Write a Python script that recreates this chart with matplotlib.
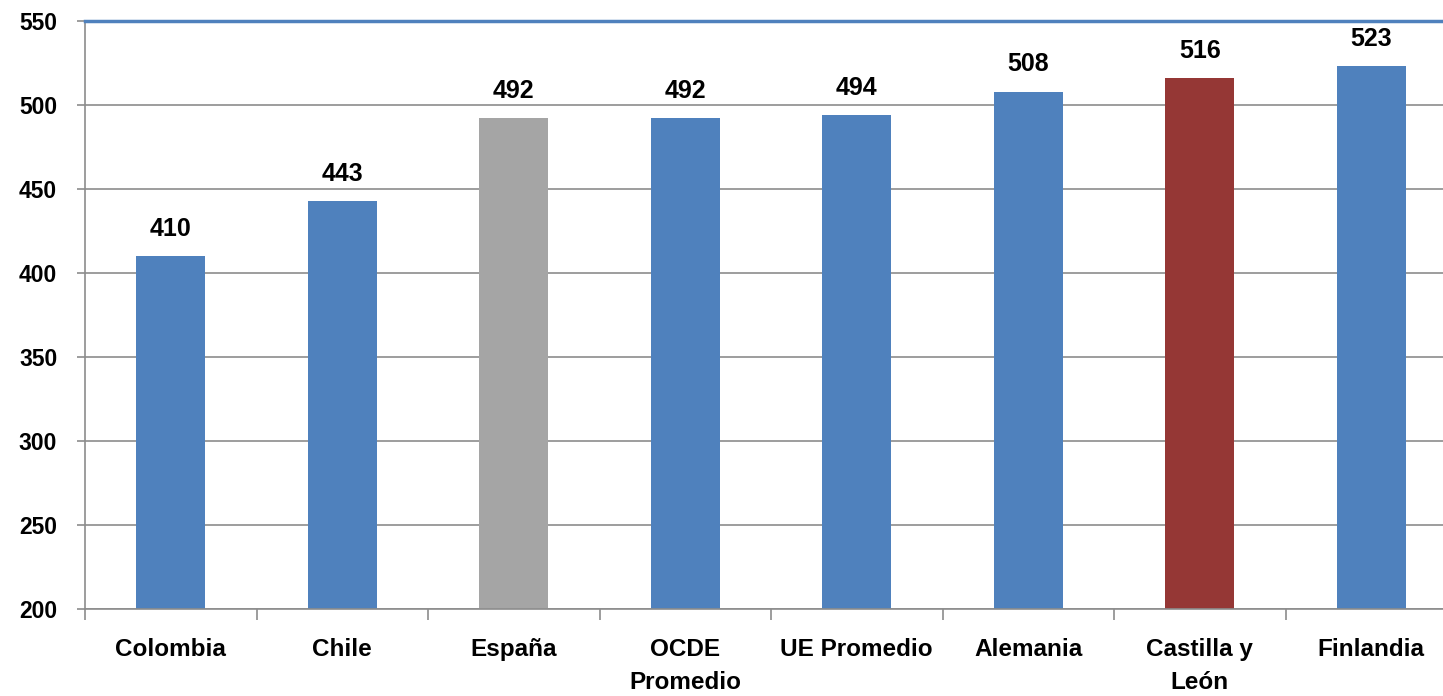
import matplotlib.pyplot as plt

categories = ["Colombia", "Chile", "España", "OCDE\nPromedio", "UE Promedio",
              "Alemania", "Castilla y\nLeón", "Finlandia"]
scores = [410, 443, 492, 492, 494, 508, 516, 523]
bar_colors = ["#4F81BD", "#4F81BD", "#A5A5A5", "#4F81BD", "#4F81BD",
              "#4F81BD", "#953735", "#4F81BD"]
yticks = [200, 250, 300, 350, 400, 450, 500, 550]

plt.rcParams['font.family'] = ['Liberation Sans', 'DejaVu Sans']

fig = plt.figure(figsize=(14.43, 6.96), dpi=100)
ax = fig.add_axes([85 / 1443, 87 / 696, 1372 / 1443, 588 / 696])

x = list(range(len(categories)))
ax.bar(x, scores, width=0.40, color=bar_colors, zorder=2)

for xi, v in zip(x, scores):
    ax.text(xi, v + 9, str(v), ha="center", va="bottom",
            fontsize=18, fontweight="bold", color="black")

ax.set_xlim(-0.5, len(categories) - 0.5)
ax.set_ylim(200, 550)
ax.set_yticks(yticks)
ax.set_yticklabels([str(t) for t in yticks], fontsize=16.5, fontweight="bold")
ax.yaxis.grid(True, color="#8C8C8C", linewidth=1.2, zorder=0)
ax.set_axisbelow(True)

# category labels between tick marks
ax.set_xticks(x)
ax.set_xticklabels(categories, fontsize=17.5, fontweight="bold", linespacing=1.55)
ax.set_xticks([i - 0.5 for i in range(len(categories) + 1)], minor=True)
ax.tick_params(axis="x", which="major", length=0, pad=21)
ax.tick_params(axis="x", which="minor", length=8, color="#8C8C8C", width=1.2)
ax.tick_params(axis="y", length=6, color="#8C8C8C", width=1.2, pad=14)

for side in ["left", "bottom"]:
    ax.spines[side].set_color("#8C8C8C")
    ax.spines[side].set_linewidth(1.2)
ax.spines["right"].set_visible(False)
ax.spines["top"].set_color("#4F81BD")
ax.spines["top"].set_linewidth(2.5)

fig.savefig("out.png", dpi=100)
